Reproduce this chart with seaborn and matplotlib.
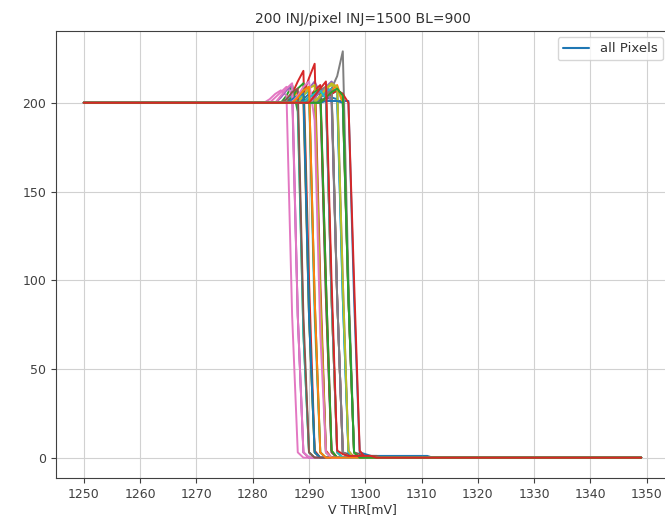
import numpy as np
import pandas as pd
import matplotlib
matplotlib.use("Agg")
import matplotlib.pyplot as plt
from matplotlib.lines import Line2D
import seaborn as sns

# V_THR scan (mV)
v_thr = list(range(1250, 1350))

# per pixel: first V_THR of the turn-over region and the hit counts read there;
# below it every pixel sees all 200 injections, after the listed values 0 hits
trans_start = [1291, 1287, 1286, 1287, 1289, 1290, 1283, 1293, 1290, 1286,
               1289, 1291, 1287, 1289, 1292, 1292, 1284, 1290, 1292, 1288,
               1292, 1291, 1288, 1290, 1285, 1293, 1285, 1291, 1289, 1292,
               1287, 1293, 1290, 1293, 1291, 1286, 1288, 1292, 1292, 1290,
               1293, 1288, 1293, 1291]
trans_vals = [
    [201, 201, 201, 201, 201, 201, 201, 90, 3, 2, 1, 1, 1, 1, 1, 1, 1, 1, 1, 1, 1, 0],
    [203, 206, 200, 80, 3, 0],
    [204, 210, 195, 70, 3, 0],
    [205, 212, 218, 100, 4, 0],
    [204, 208, 212, 205, 90, 3, 0],
    [202, 205, 207, 90, 3, 0],
    [202, 205, 207, 204, 80, 3, 0],
    [203, 208, 215, 229, 100, 3, 0],
    [203, 206, 208, 206, 90, 3, 0],
    [202, 204, 200, 70, 3, 0],
    [202, 205, 203, 90, 3, 0],
    [203, 207, 209, 205, 90, 3, 0],
    [203, 208, 211, 80, 3, 0],
    [205, 214, 222, 100, 4, 0],
    [204, 209, 212, 208, 100, 4, 0],
    [203, 206, 208, 90, 3, 2, 1, 1, 1, 1, 1, 0],
    [203, 206, 209, 205, 80, 3, 0],
    [202, 204, 207, 205, 90, 3, 0],
    [204, 208, 210, 208, 200, 90, 3, 0],
    [202, 205, 206, 80, 3, 0],
    [202, 202, 203, 202, 90, 3, 0],
    [203, 206, 205, 90, 3, 0],
    [203, 207, 209, 90, 3, 0],
    [203, 207, 210, 100, 4, 0],
    [203, 207, 210, 80, 3, 0],
    [202, 205, 207, 205, 90, 3, 2, 1, 1, 0],
    [204, 208, 211, 80, 3, 0],
    [203, 207, 209, 206, 90, 3, 0],
    [204, 208, 210, 90, 3, 0],
    [203, 206, 208, 206, 90, 3, 0],
    [202, 204, 205, 80, 3, 0],
    [203, 207, 210, 200, 90, 3, 0],
    [203, 206, 208, 100, 4, 0],
    [203, 205, 207, 205, 200, 100, 4, 0],
    [203, 206, 208, 200, 90, 3, 0],
    [202, 206, 208, 80, 3, 0],
    [204, 209, 212, 190, 70, 3, 0],
    [203, 205, 207, 90, 3, 0],
    [204, 208, 211, 209, 100, 4, 0],
    [203, 205, 207, 202, 90, 3, 0],
    [201, 201, 201, 200, 90, 3, 0],
    [203, 207, 209, 90, 3, 0],
    [203, 206, 208, 204, 90, 3, 0],
    [204, 208, 212, 100, 4, 2, 1, 1, 1, 1, 1, 0],
]
n_inj = 200

rows = []
for p, (s, vals) in enumerate(zip(trans_start, trans_vals)):
    for v in v_thr:
        k = v - s
        if k < 0:
            c = n_inj
        elif k < len(vals):
            c = vals[k]
        else:
            c = 0
        rows.append((p, v, c))
df = pd.DataFrame(rows, columns=["pixel", "V", "hits"])

sns.set_style("ticks", {"axes.grid": True, "grid.color": "0.82",
                        "axes.edgecolor": "0.25", "xtick.color": "0.25",
                        "ytick.color": "0.25", "text.color": "0.2",
                        "axes.labelcolor": "0.2"})
plt.rcParams["font.family"] = ["DejaVu Sans"]

fig, ax = plt.subplots(figsize=(6.65, 5.17), dpi=100)
ax.set_position([56 / 665, 39 / 517, 613 / 665, 447 / 517])

tab = sns.color_palette("tab10")
pal = [tab[i % 10] for i in range(len(trans_start))]
sns.lineplot(data=df, x="V", y="hits", hue="pixel", palette=pal,
             estimator=None, legend=False, linewidth=1.4, ax=ax)

ax.set_xticks(range(1250, 1351, 10))
ax.set_yticks(range(0, 201, 50))
ax.tick_params(labelsize=9, length=3.5)
ax.set_xlabel("V THR[mV]", fontsize=9, labelpad=2)
ax.set_ylabel("")
ax.set_title("200 INJ/pixel INJ=1500 BL=900", fontsize=10, pad=6)
for sp in ["top", "right"]:
    ax.spines[sp].set_visible(True)

ax.legend(handles=[Line2D([], [], color=tab[0], lw=1.5)], labels=["all Pixels"],
          loc="upper right", fontsize=9.5, bbox_to_anchor=(1.0, 1.0),
          borderaxespad=0.45, frameon=True)

fig.savefig("out.png", dpi=100)
